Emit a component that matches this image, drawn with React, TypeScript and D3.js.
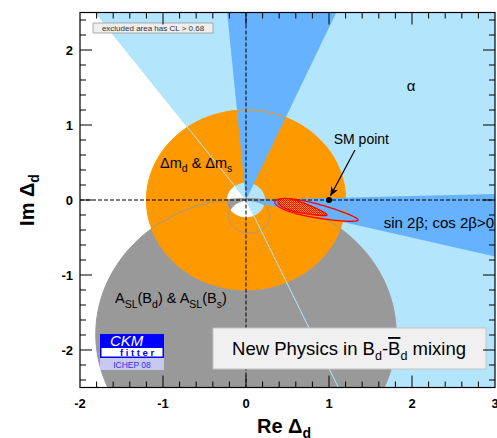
import React from 'react';
import * as d3 from 'd3';

const W = 497, H = 438;
const xDomain = [-2, 3];
const yDomain = [-2.5, 2.5];
const xTickLabels = [-2, -1, 0, 1, 2, 3];
const yTickLabels = [-2, -1, 0, 1, 2];
// alpha constraint wedge (degrees, from origin)
const alphaAngles = [-66, 126];
// sin 2beta wedges (degrees)
const betaWedges = [[-14.1, 1.5], [66.5, 95.2]];
// Delta m_d & Delta m_s ring: inner, outer radius
const dmRing = [0.23, 1.2];
// A_SL disk: cx, cy, r ; excluded hole: cx, cy, rx, ry
const aslDisk = [0, -1.79, 1.81];
const aslHole = [0.04, -0.22, 0.25, 0.22];
// fit contours: cx, cy, a, b, angle(deg), skew
const fitOuter = [0.849, -0.145, 0.515, 0.092, -13.7, 0.3];
const fitInner = [0.681, -0.107, 0.31, 0.068, -17.6, 0.45];
const smPoint = [1, 0];
const smArrow = [[1.313, 0.667], [1.02, 0.06]];
const labelPos = {
  sm: [1.39, 0.747],
  alpha: [1.99, 1.453],
  dm: [-1.036, 0.427],
  beta: [2.988, -0.373],
  asl: [-1.578, -1.373],
};

const LB = '#b3e5fc';
const MB = '#66b2ff';
const OR = '#ff9900';
const GR = '#999999';
const FONT = '"Liberation Sans", Arial, Helvetica, sans-serif';

export default function App() {
  const x = d3.scaleLinear().domain(xDomain).range([80, 495]);
  const y = d3.scaleLinear().domain(yDomain).range([387.5, 12.5]);
  const line = d3.line<number[]>().x(d => x(d[0])).y(d => y(d[1]));
  const closed = (pts: number[][]) => line(pts) + 'Z';

  const ellipsePts = (cx: number, cy: number, rx: number, ry: number, n = 240) =>
    d3.range(n).map(i => {
      const t = (2 * Math.PI * i) / n;
      return [cx + rx * Math.cos(t), cy + ry * Math.sin(t)];
    });
  const wedgePts = (a1: number, a2: number, R = 20) => {
    const pts: number[][] = [[0, 0]];
    for (let i = 0; i <= 90; i++) {
      const a = ((a1 + ((a2 - a1) * i) / 90) * Math.PI) / 180;
      pts.push([R * Math.cos(a), R * Math.sin(a)]);
    }
    return pts;
  };
  const eggPts = (p: number[], n = 200) => {
    const [cx, cy, a, b, deg, k] = p;
    const th = (deg * Math.PI) / 180;
    return d3.range(n).map(i => {
      const t = (2 * Math.PI * i) / n;
      const u = a * Math.cos(t);
      const v = b * Math.sin(t) * (1 - k * Math.cos(t));
      return [cx + u * Math.cos(th) - v * Math.sin(th), cy + u * Math.sin(th) + v * Math.cos(th)];
    });
  };
  const ray = (deg: number, R = 20) => [[0, 0], [R * Math.cos((deg * Math.PI) / 180), R * Math.sin((deg * Math.PI) / 180)]];

  const ringPath = closed(ellipsePts(0, 0, dmRing[1], dmRing[1])) + closed(ellipsePts(0, 0, dmRing[0], dmRing[0]));
  const aslPath = closed(ellipsePts(aslDisk[0], aslDisk[1], aslDisk[2], aslDisk[2])) +
    closed(ellipsePts(aslHole[0], aslHole[1], aslHole[2], aslHole[3]));

  const [x0, x1] = x.range();
  const [yb, yt] = y.range();

  const ticks: React.ReactElement[] = [];
  for (let i = 1; i < 25; i++) {
    const v = xDomain[0] + i * 0.2;
    const L = i % 5 === 0 ? 12 : 6;
    const px = x(v);
    ticks.push(<line key={'xb' + i} x1={px} x2={px} y1={yb} y2={yb - L} />);
    ticks.push(<line key={'xt' + i} x1={px} x2={px} y1={yt} y2={yt + L} />);
  }
  for (let i = 0; i < 25; i++) {
    const v = -2.4 + i * 0.2;
    const L = Math.abs(v - Math.round(v)) < 1e-6 ? 12 : 6;
    const py = y(v);
    ticks.push(<line key={'yl' + i} x1={x0} x2={x0 + L} y1={py} y2={py} />);
    ticks.push(<line key={'yr' + i} x1={x1} x2={x1 - L} y1={py} y2={py} />);
  }

  const lp = (k: keyof typeof labelPos) => [x(labelPos[k][0]), y(labelPos[k][1])];

  return (
    <svg width={W} height={H} style={{ position: 'absolute', left: 0, top: 0, background: '#fff' }} fontFamily={FONT}>
      <defs>
        <clipPath id="plot">
          <rect x={x0} y={yt} width={x1 - x0} height={yb - yt} />
        </clipPath>
        <pattern id="hatch" width="2" height="2" patternUnits="userSpaceOnUse">
          <rect width="2" height="2" fill={OR} />
          <rect width="1" height="1" fill="#ff0000" />
          <rect x="1" y="1" width="1" height="1" fill="#ff0000" />
        </pattern>
        <marker id="arrow" viewBox="0 0 10 10" refX="9" refY="5" markerWidth="8" markerHeight="8" orient="auto">
          <path d="M0,1 L10,5 L0,9 L3,5 Z" fill="#000" />
        </marker>
      </defs>
      <rect x={0} y={0} width={W} height={H} fill="#fff" />
      <g clipPath="url(#plot)">
        <path d={closed(wedgePts(alphaAngles[0], alphaAngles[1]))} fill={LB} />
        <path d={aslPath} fill={GR} fillRule="evenodd" />
        <path d={ringPath} fill={OR} fillRule="evenodd" />
        {betaWedges.map((w, i) => (
          <path key={'b' + i} d={closed(wedgePts(w[0], w[1]))} fill={MB} />
        ))}
        <path d={closed(ellipsePts(0, 0, dmRing[1], dmRing[1]))} fill="none" stroke={OR} strokeWidth={1} />
        <path d={closed(ellipsePts(aslDisk[0], aslDisk[1], aslDisk[2], aslDisk[2]))} fill="none" stroke={GR} strokeWidth={1} />
        <path d={closed(ellipsePts(aslHole[0], aslHole[1], aslHole[2], aslHole[3]))} fill="none" stroke={GR} strokeWidth={1} />
        {alphaAngles.map((a, i) => (
          <path key={'ar' + i} d={line(ray(a)) || ''} stroke={LB} strokeWidth={1} fill="none" />
        ))}
        <line x1={x0} x2={x1} y1={y(0)} y2={y(0)} stroke="#000" strokeWidth={1} strokeDasharray="4,2" />
        <line x1={x(0)} x2={x(0)} y1={yt} y2={yb} stroke="#000" strokeWidth={1} strokeDasharray="4,2" />
        <path d={closed(eggPts(fitOuter))} fill="none" stroke="#ff0000" strokeWidth={1.3} />
        <path d={closed(eggPts(fitInner))} fill="url(#hatch)" stroke="#ff0000" strokeWidth={1.3} />
        <circle cx={x(smPoint[0])} cy={y(smPoint[1])} r={3} fill="#000" />
        <line x1={x(smArrow[0][0])} y1={y(smArrow[0][1])} x2={x(smArrow[1][0])} y2={y(smArrow[1][1])}
          stroke="#000" strokeWidth={1.2} markerEnd="url(#arrow)" />
        <text x={lp('sm')[0]} y={lp('sm')[1]} fontSize={14} textAnchor="middle" fill="#000">SM point</text>
        <text x={lp('alpha')[0]} y={lp('alpha')[1]} fontSize={15} textAnchor="middle" fill="#000">α</text>
        <text x={lp('dm')[0]} y={lp('dm')[1]} fontSize={14.5} fill="#000">
          Δm<tspan fontSize={10.5} dy={4}>d</tspan><tspan dy={-4}> &amp; Δm</tspan><tspan fontSize={10.5} dy={4}>s</tspan>
        </text>
        <text x={lp('beta')[0]} y={lp('beta')[1]} fontSize={15} textAnchor="end" fill="#000">sin 2β; cos 2β&gt;0</text>
        <text x={lp('asl')[0]} y={lp('asl')[1]} fontSize={14.5} fill="#000">
          A<tspan fontSize={10.5} dy={5}>SL</tspan><tspan dy={-5}>(B</tspan><tspan fontSize={10.5} dy={5}>d</tspan>
          <tspan dy={-5}>) &amp; A</tspan><tspan fontSize={10.5} dy={5}>SL</tspan><tspan dy={-5}>(B</tspan>
          <tspan fontSize={10.5} dy={5}>s</tspan><tspan dy={-5}>)</tspan>
        </text>
      </g>
      {/* legend box top-left */}
      <rect x={93} y={23} width={120} height={10} fill="#eeeeee" stroke="#999" strokeWidth={0.8} />
      <text x={153} y={31} fontSize={8} textAnchor="middle" fill="#333">excluded area has CL &gt; 0.68</text>
      {/* title box */}
      <rect x={213} y={328} width={273} height={41} fill="#f0f0f0" stroke="#c4c4c4" strokeWidth={1} />
      <text x={349} y={355} fontSize={18.5} fill="#000" textAnchor="middle">
        New Physics in B<tspan fontSize={12.5} dy={5}>d</tspan><tspan dy={-5}>-</tspan>
        <tspan style={{ textDecoration: 'overline' }}>B</tspan><tspan fontSize={12.5} dy={5}>d</tspan>
        <tspan dy={-5}> mixing</tspan>
      </text>
      {/* CKMfitter logo */}
      <rect x={100} y={334} width={64} height={24} fill="#0000ff" />
      <rect x={101.5} y={348} width={61} height={8.5} fill="#fff" />
      <text x={110} y={346} fontSize={15} fontStyle="italic" fill="#fff">CKM</text>
      <text x={120} y={356} fontSize={9.5} fontWeight="bold" fill="#0000ff" letterSpacing={2.6}>fitter</text>
      <rect x={100} y={358} width={64} height={12} fill="#c8c8f0" />
      <text x={132} y={367.5} fontSize={8.5} textAnchor="middle" fill="#3030ff">ICHEP 08</text>
      {/* frame and ticks */}
      <g stroke="#000" strokeWidth={1}>{ticks}</g>
      <rect x={x0} y={yt} width={x1 - x0} height={yb - yt} fill="none" stroke="#000" strokeWidth={1.2} />
      {xTickLabels.map(v => (
        <text key={'xl' + v} x={x(v)} y={408} fontSize={13} fontWeight="bold" textAnchor="middle" fill="#000">{v}</text>
      ))}
      {yTickLabels.map(v => (
        <text key={'yl' + v} x={73} y={y(v) + 5} fontSize={13} fontWeight="bold" textAnchor="end" fill="#000">{v}</text>
      ))}
      <text x={257} y={433} fontSize={20} fontWeight="bold" fill="#000">
        Re Δ<tspan fontSize={14} dy={5}>d</tspan>
      </text>
      <text transform="translate(34,200) rotate(-90)" fontSize={20} fontWeight="bold" textAnchor="middle" fill="#000">
        Im Δ<tspan fontSize={14} dy={5}>d</tspan>
      </text>
    </svg>
  );
}
